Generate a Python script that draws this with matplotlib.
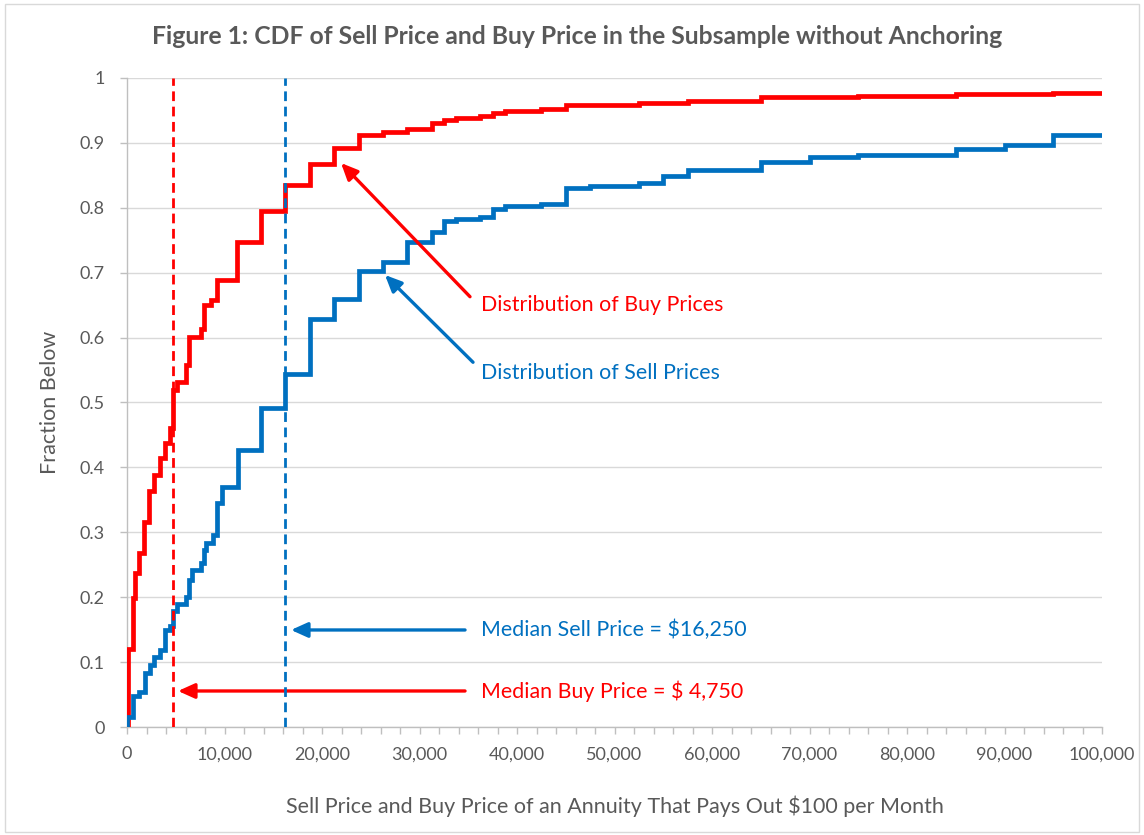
import matplotlib
matplotlib.use("Agg")
import matplotlib.pyplot as plt
from matplotlib.ticker import FuncFormatter, MultipleLocator
from matplotlib.patches import Rectangle

plt.rcParams['font.family'] = ['Lato', 'DejaVu Sans']

# Distribution of buy prices (step positions and fraction below after each step)
buy_x = [0, 150, 650, 800, 1250, 1750, 2250, 2800, 3400, 3900, 4400, 4750, 5100,
         6000, 6400, 7600, 7900, 8600, 9200, 11250, 13750, 16250, 18750, 21250,
         23750, 26250, 28750, 31250, 32500, 33750, 36250, 37500, 38750, 42500,
         45000, 52500, 57500, 65000, 75000, 85000, 95000, 100000]
buy_y = [0.0, 0.12, 0.199, 0.237, 0.268, 0.316, 0.363, 0.388, 0.414, 0.437, 0.46,
         0.519, 0.532, 0.558, 0.601, 0.614, 0.65, 0.658, 0.689, 0.748, 0.7955,
         0.835, 0.867, 0.892, 0.912, 0.917, 0.922, 0.930, 0.935, 0.939, 0.941,
         0.9455, 0.949, 0.952, 0.958, 0.962, 0.965, 0.970, 0.973, 0.975, 0.977,
         0.977]

# Distribution of sell prices
sell_x = [0, 0, 650, 1250, 1850, 2350, 2800, 3400, 3900, 4400, 4750, 5100, 6100,
          6400, 6650, 7550, 7900, 8150, 8850, 9200, 9700, 11400, 13700, 16250,
          18750, 21250, 23750, 26250, 28750, 31250, 32500, 33750, 36250, 37500,
          38750, 42500, 45000, 47500, 52500, 55000, 57500, 65000, 70000, 75000,
          85000, 90000, 95000, 100000]
sell_y = [0.0, 0.016, 0.047, 0.054, 0.083, 0.096, 0.108, 0.119, 0.149, 0.155,
          0.178, 0.19, 0.20, 0.227, 0.242, 0.252, 0.273, 0.284, 0.296, 0.345,
          0.370, 0.427, 0.491, 0.544, 0.629, 0.659, 0.702, 0.717, 0.748, 0.763,
          0.780, 0.783, 0.786, 0.798, 0.803, 0.806, 0.830, 0.833, 0.838, 0.849,
          0.858, 0.871, 0.878, 0.882, 0.890, 0.896, 0.912, 0.912]

median_buy = 4750
median_sell = 16250

RED = '#FF0000'
BLUE = '#0070C0'
GRAY = '#595959'

fig = plt.figure(figsize=(11.44, 8.35), dpi=100)
ax = fig.add_axes([127/1144, 108/835, 975/1144, 649/835])

ax.step(buy_x, buy_y, where='post', color=RED, lw=3.4, zorder=3, solid_joinstyle='miter')
ax.step(sell_x, sell_y, where='post', color=BLUE, lw=3.4, zorder=3, solid_joinstyle='miter')

ax.plot([median_buy, median_buy], [0, 1], color=RED, lw=2.0, ls=(0, (3.5, 2)), zorder=4)
ax.plot([median_sell, median_sell], [0, 1], color=BLUE, lw=2.0, ls=(0, (3.5, 2)), zorder=4)

ax.set_xlim(0, 100000)
ax.set_ylim(0, 1)
ax.xaxis.set_major_locator(MultipleLocator(10000))
ax.xaxis.set_minor_locator(MultipleLocator(2000))
ax.yaxis.set_major_locator(MultipleLocator(0.1))
ax.xaxis.set_major_formatter(FuncFormatter(lambda v, p: f"{int(round(v)):,}"))
ax.yaxis.set_major_formatter(FuncFormatter(lambda v, p: "0" if abs(v) < 1e-9 else ("1" if abs(v-1) < 1e-9 else f"{v:.1f}")))

ax.grid(axis='y', color='#D9D9D9', lw=1.0, zorder=0)
ax.set_axisbelow(True)
for s in ['top', 'right']:
    ax.spines[s].set_visible(False)
for s in ['left', 'bottom']:
    ax.spines[s].set_color('#BFBFBF')
    ax.spines[s].set_linewidth(1.0)
ax.tick_params(axis='both', which='major', color='#BFBFBF', length=5, width=1,
               labelcolor=GRAY, labelsize=13)
ax.tick_params(axis='x', which='minor', color='#BFBFBF', length=5, width=1)
ax.tick_params(axis='x', pad=9)
ax.tick_params(axis='y', pad=11)

ax.set_xlabel("Sell Price and Buy Price of an Annuity That Pays Out $100 per Month",
              color=GRAY, fontsize=15.5, labelpad=24)
ax.set_ylabel("Fraction Below", color=GRAY, fontsize=15.5)
ax.yaxis.set_label_coords(-(127 - 60) / 975, 0.5)
fig.text(0.5 + 5/1144, 1 - 37/835, "Figure 1: CDF of Sell Price and Buy Price in the Subsample without Anchoring",
         ha='center', va='center', fontsize=17.8, fontweight='bold', color=GRAY)

# Annotations
ap = dict(arrowstyle='-|>,head_length=1.0,head_width=0.45', lw=2.4, shrinkA=0, shrinkB=0)
ax.annotate("", xy=(21950, 0.869), xytext=(35180, 0.663), arrowprops=dict(ap, color=RED))
ax.text(36300, 0.650, "Distribution of Buy Prices", color=RED, fontsize=15.4, ha='left', va='center')

ax.annotate("", xy=(26460, 0.6965), xytext=(35490, 0.562), arrowprops=dict(ap, color=BLUE))
ax.text(36300, 0.545, "Distribution of Sell Prices", color=BLUE, fontsize=15.4, ha='left', va='center')

ax.annotate("", xy=(16820, 0.1495), xytext=(34670, 0.1495), arrowprops=dict(ap, color=BLUE))
ax.text(36300, 0.1495, "Median Sell Price = $16,250", color=BLUE, fontsize=15.4, ha='left', va='center')

ax.annotate("", xy=(5230, 0.0555), xytext=(34670, 0.0555), arrowprops=dict(ap, color=RED))
ax.text(36300, 0.0555, "Median Buy Price = $ 4,750", color=RED, fontsize=15.4, ha='left', va='center')

# Chart border
fig.patches.append(Rectangle((5/1144, 3/835), 1134/1144, 828/835, transform=fig.transFigure,
                             fill=False, edgecolor='#D9D9D9', lw=1.0))

fig.savefig("out.png", dpi=100)
